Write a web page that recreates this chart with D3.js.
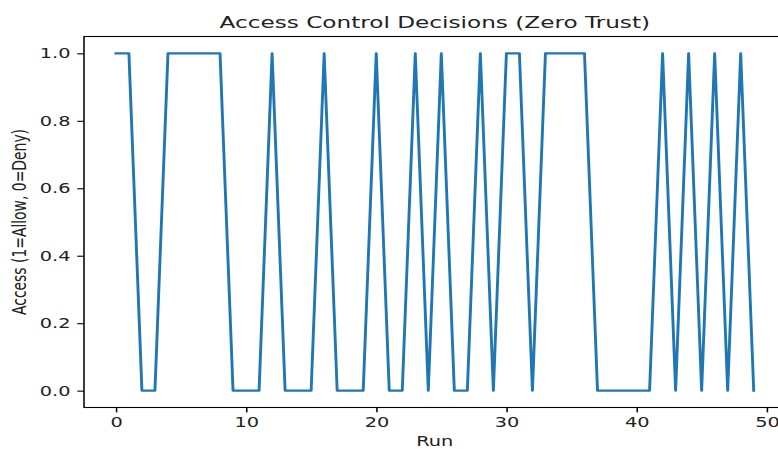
<!DOCTYPE html>
<html lang="en">
<head>
<meta charset="UTF-8">
<script src="https://d3js.org/d3.v7.min.js"></script>
<title>Access Control Decisions (Zero Trust)</title>
<style>
  body { margin: 0; background: #fff; }
  text { font-family: "DejaVu Sans", sans-serif; fill: #222; }
</style>
</head>
<body>
<svg id="chart" width="778" height="449"></svg>
<script>

// data: one decision per run (1 = allow, 0 = deny)
var runs = d3.range(50);
var access = [1, 1, 0, 0, 1, 1, 1, 1, 1, 0,
              0, 0, 1, 0, 0, 0, 1, 0, 0, 0,
              1, 0, 0, 1, 0, 1, 0, 0, 1, 0,
              1, 1, 0, 1, 1, 1, 1, 0, 0, 0,
              0, 0, 1, 0, 1, 0, 1, 0, 1, 0];
var xTicks = [0, 10, 20, 30, 40, 50];
var yTicks = [0, 0.2, 0.4, 0.6, 0.8, 1.0];

var titleText = "Access Control Decisions (Zero Trust)";
var xLabel = "Run";
var yLabel = "Access (1=Allow, 0=Deny)";

// the reference picture is stretched sideways, so draw in a squeezed space
var sx = 1.39;
var svg = d3.select("#chart");
var g = svg.append("g").attr("transform", "scale(" + sx + ",1)");

// plot box (x in squeezed units, y in pixels)
var axLeft = 84 / sx, axRight = 785.6 / sx, axTop = 36.5, axBottom = 407.5;

var x = d3.scaleLinear().domain([-2.45, 51.45]).range([axLeft, axRight]);
var y = d3.scaleLinear().domain([-0.05, 1.05]).range([axBottom, axTop]);

// the line
var line = d3.line()
    .x(function(d, i) { return x(runs[i]); })
    .y(function(d) { return y(d); });

g.append("path")
    .datum(access)
    .attr("fill", "none")
    .attr("stroke", "#1f77b4")
    .attr("stroke-width", 2.08)
    .attr("stroke-linejoin", "round")
    .attr("stroke-linecap", "square")
    .attr("d", line);

// axes
var xAxis = g.append("g")
    .attr("transform", "translate(0," + axBottom + ")")
    .call(d3.axisBottom(x).tickValues(xTicks).tickFormat(d3.format("d"))
        .tickSize(4.86).tickPadding(4.86).tickSizeOuter(0));

var yAxis = g.append("g")
    .attr("transform", "translate(" + axLeft + ",0)")
    .call(d3.axisLeft(y).tickValues(yTicks).tickFormat(d3.format(".1f"))
        .tickSize(4.86).tickPadding(4.86).tickSizeOuter(0));

[xAxis, yAxis].forEach(function(a) {
  a.select(".domain").remove();
  a.selectAll("line").attr("stroke", "#000").attr("stroke-width", 1.1);
  a.selectAll("text").attr("font-family", "DejaVu Sans").attr("font-size", 13.9).attr("fill", "#222");
});

// frame
g.append("rect")
    .attr("x", axLeft).attr("y", axTop)
    .attr("width", axRight - axLeft).attr("height", axBottom - axTop)
    .attr("fill", "none")
    .attr("stroke", "#000")
    .attr("stroke-width", 1.1);

// labels
g.append("text")
    .attr("x", (axLeft + axRight) / 2)
    .attr("y", 28)
    .attr("text-anchor", "middle")
    .attr("font-size", 16.67)
    .text(titleText);

g.append("text")
    .attr("x", (axLeft + axRight) / 2)
    .attr("y", 446)
    .attr("text-anchor", "middle")
    .attr("font-size", 13.9)
    .text(xLabel);

g.append("text")
    .attr("transform", "translate(18.6," + (axTop + axBottom) / 2 + ") rotate(-90)")
    .attr("text-anchor", "middle")
    .attr("font-size", 13.9)
    .text(yLabel);

</script>
</body>
</html>
